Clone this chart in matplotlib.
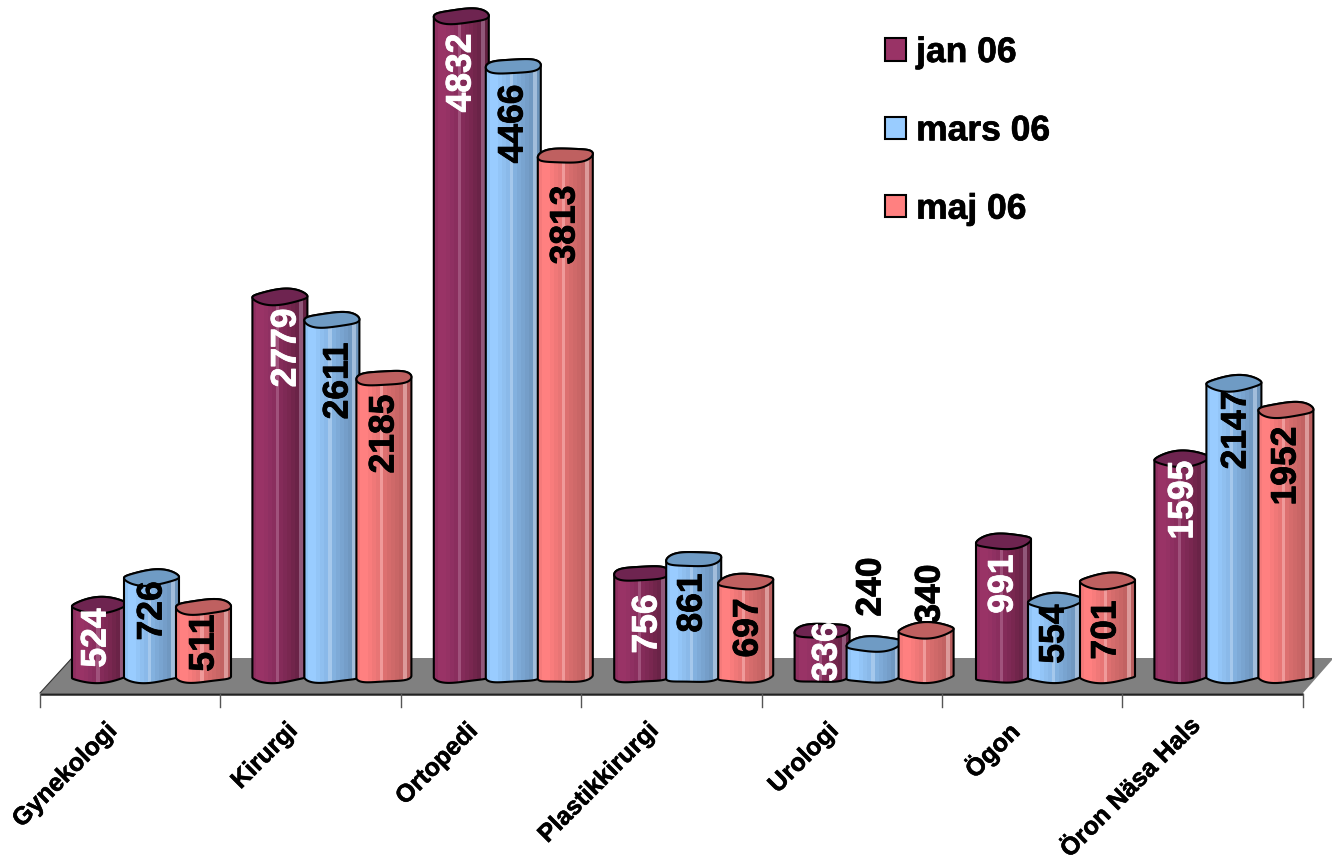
import numpy as np
import matplotlib
matplotlib.use("Agg")
import matplotlib.pyplot as plt
import matplotlib.patheffects as pe
from matplotlib.colors import to_rgb
from matplotlib.patches import Polygon, Patch

# ---------- data ----------
categories = ["Gynekologi", "Kirurgi", "Ortopedi", "Plastikkirurgi", "Urologi", "Ögon", "Öron Näsa Hals"]
jan_06 = [524, 2779, 4832, 756, 336, 991, 1595]
mars_06 = [726, 2611, 4466, 861, 240, 554, 2147]
maj_06 = [511, 2185, 3813, 697, 340, 701, 1952]
series_names = ["jan 06", "mars 06", "maj 06"]
series_values = [jan_06, mars_06, maj_06]

# ---------- styles ----------
W, H = 1332, 859
PX_CAT = 180.4          # pixels per category
PX_VAL = 0.1367         # pixels per value unit
X0_PX, Y0_PX = 40, 678  # pixel of category edge 0 and of value 0
FONT = "Liberation Sans"
BANDS = [
    ["#8f2f60", "#993366", "#993366", "#953264", "#8f3062", "#8a2e5e", "#a0527c", "#842b59",
     "#7e2955", "#792750", "#71254b", "#6a2347", "#91587a", "#642142"],
    ["#8fc3f5", "#99ccff", "#99ccff", "#93c5f7", "#8fbfef", "#8ab9e9", "#a5c8ec", "#83b1df",
     "#7eaad7", "#79a4d0", "#759ec9", "#7098c1", "#a2bddb", "#6d94bb"],
    ["#f57a7a", "#ff8080", "#ff8080", "#f87c7c", "#f07878", "#e87575", "#f09a9a", "#dd7070",
     "#d56c6c", "#cf6969", "#c96666", "#c26262", "#dc9a9a", "#b95e5e"],
]
TOP_COL = ["#6e2450", "#6f9bc4", "#bf6060"]
FLAT_COL = ["#993366", "#99ccff", "#ff8080"]
TXT_COL = ["white", "black", "black"]
BAR_START_PX = [32, 32, 33, 33, 33, 34, 32]
# centre of each data label in pixels, per series and category
LABEL_X = [[96, 286, 461, 647, 827, 1003, 1183],
           [152, 338, 513, 692, 871, 1054, 1236],
           [204, 384, 565, 748, 930, 1106, 1286]]
LABEL_Y = [[638, 348, 73, 624, 652, 584, 500],
           [611, 381, 124, 603, 587, 634, 430],
           [643, 434, 225, 628, 594, 630, 466]]
# end point of each category label, in pixels from its tick and from the top
CAT_LABEL_DX = [73, 73, 73, 73, 73, 73, 74]
CAT_LABEL_Y = [727, 727, 727, 727, 727, 727, 722]

fig = plt.figure(figsize=(W / 100, H / 100), dpi=100, facecolor="white")
ax = fig.add_axes([0, 0, 1, 1])
ax.axis("off")


def fx(px):
    return (np.asarray(px, float) - X0_PX) / PX_CAT


def fy(py):
    return (Y0_PX - np.asarray(py, float)) / PX_VAL


def bold_stroke(color, w):
    return [pe.withStroke(linewidth=w, foreground=color)]


# floor
ax.add_patch(Polygon(np.c_[fx([40, 1303, 1332, 1332, 72]), fy([693, 693, 660, 658, 658])],
                     closed=True, fc="#808080", ec="none", zorder=1))
ax.plot(fx([40, 72]), fy([693, 658]), color="#333333", lw=0.8, zorder=2)
ax.plot(fx([40, 1303]), fy([693.5, 693.5]), color="#222222", lw=1.8, zorder=2,
        solid_capstyle="butt")
for i in range(len(categories) + 1):
    tx = fx(40 + PX_CAT * i)
    ax.plot([tx, tx], fy([694, 707]), color="#555555", lw=1.0, zorder=2)

# cylinders
t = np.linspace(0, 2 * np.pi, 121)
WIDTH_PX, STEP_PX, B_PX, S_PX = 55, 52, 7.5, 1.2
z = 3
for i in range(len(categories)):
    for s, vals in enumerate(series_values):
        v = vals[i]
        left = 40 + PX_CAT * i + BAR_START_PX[i] + s * STEP_PX
        a = WIDTH_PX / 2
        cx = left + a
        wob = 0.8 * np.sin(3 * t + i + s)
        ex = cx + a * np.cos(t)
        tilt = S_PX * (np.cos(t) + 1)
        top_y = Y0_PX - v * PX_VAL - B_PX * np.sin(t) - tilt + wob      # pixels
        bot_y = Y0_PX - 5.5 * np.sin(t) - tilt + wob

        lo = (t >= np.pi)          # front half of the bottom rim
        hi = (t <= np.pi)          # back half of the top rim
        body_x = np.r_[ex[lo], ex[hi]]
        body_y = np.r_[bot_y[lo], top_y[hi]]
        body = Polygon(np.c_[fx(body_x), fy(body_y)], closed=True, fc=FLAT_COL[s], ec="none", zorder=z)
        ax.add_patch(body)
        cols = np.array([[to_rgb(c) for c in BANDS[s]]])
        im = ax.imshow(cols, extent=(fx(left), fx(left + WIDTH_PX), 0 - 30 / PX_VAL, v + 30 / PX_VAL),
                       aspect="auto", interpolation="nearest", zorder=z + 0.1, origin="lower")
        im.set_clip_path(body)
        ax.add_patch(Polygon(np.c_[fx(body_x), fy(body_y)], closed=True, fc="none", ec="black",
                             lw=1.5, joinstyle="round", zorder=z + 0.2))
        ax.add_patch(Polygon(np.c_[fx(ex), fy(top_y)], closed=True, fc=TOP_COL[s], ec="black",
                             lw=1.5, joinstyle="round", zorder=z + 0.3))
        z += 1

# data labels
for s, vals in enumerate(series_values):
    for i, v in enumerate(vals):
        ax.text(fx(LABEL_X[s][i]), fy(LABEL_Y[s][i]), str(v), rotation=90, ha="center", va="center",
                fontsize=25.5, fontweight="bold", family=FONT, color=TXT_COL[s], zorder=100,
                path_effects=bold_stroke(TXT_COL[s], 0.6))

# category labels
for i, c in enumerate(categories):
    ax.text(fx(40 + PX_CAT * i + CAT_LABEL_DX[i]), fy(CAT_LABEL_Y[i]), c, rotation=45, rotation_mode="anchor",
            ha="right", va="center", fontsize=18, fontweight="bold", family=FONT,
            color="black", zorder=100, path_effects=bold_stroke("black", 0.4))

ax.set_xlim(fx(0), fx(W))
ax.set_ylim(fy(H), fy(0))

# legend
handles = [Patch(facecolor=FLAT_COL[k], edgecolor="black", linewidth=1.5, label=series_names[k]) for k in range(3)]
leg = fig.legend(handles=handles, loc="upper left", bbox_to_anchor=(885 / W, 1 - 36 / H),
                 bbox_transform=fig.transFigure, frameon=False, borderpad=0, borderaxespad=0,
                 prop={"family": FONT, "weight": "bold", "size": 25.5},
                 handlelength=0.6, handleheight=0.6, handletextpad=0.28, labelspacing=1.28)
for txt in leg.get_texts():
    txt.set_path_effects(bold_stroke("black", 0.5))

fig.savefig("out.png", dpi=100, facecolor="white")
